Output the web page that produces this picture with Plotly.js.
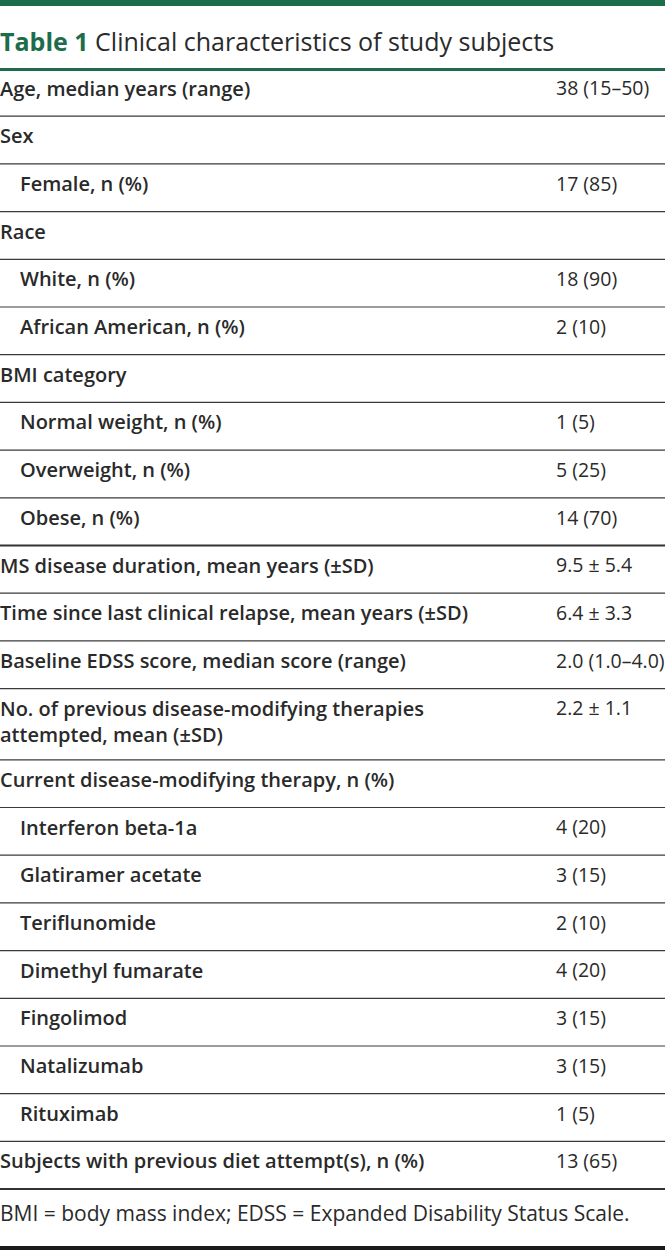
<!DOCTYPE html>
<html>
<head>
<meta charset="utf-8">
<script src="https://cdn.plot.ly/plotly-3.0.1.min.js"></script>
<style>
html,body{margin:0;padding:0;background:#fff;}
#chart{width:665px;height:1250px;}
</style>
</head>
<body>
<div id="chart"></div>
<script>
// ---- data ----
var rowLabels = [
  "Age, median years (range)",
  "Sex",
  "Female, n (%)",
  "Race",
  "White, n (%)",
  "African American, n (%)",
  "BMI category",
  "Normal weight, n (%)",
  "Overweight, n (%)",
  "Obese, n (%)",
  "MS disease duration, mean years (±SD)",
  "Time since last clinical relapse, mean years (±SD)",
  "Baseline EDSS score, median score (range)",
  "No. of previous disease-modifying therapies<br>attempted, mean (±SD)",
  "Current disease-modifying therapy, n (%)",
  "Interferon beta-1a",
  "Glatiramer acetate",
  "Teriflunomide",
  "Dimethyl fumarate",
  "Fingolimod",
  "Natalizumab",
  "Rituximab",
  "Subjects with previous diet attempt(s), n (%)"
];
var rowValues = [
  "38 (15–50)", "", "17 (85)", "", "18 (90)", "2 (10)", "", "1 (5)", "5 (25)", "14 (70)",
  "9.5 ± 5.4", "6.4 ± 3.3", "2.0 (1.0–4.0)", "2.2 ± 1.1", "",
  "4 (20)", "3 (15)", "2 (10)", "4 (20)", "3 (15)", "3 (15)", "1 (5)", "13 (65)"
];
var rowIndent = [0,0,1,0,1,1,0,1,1,1,0,0,0,0,0,1,1,1,1,1,1,1,0];
var thickAfter = [9, 22]; // rows followed by a heavier rule
var titleBold = "Table 1";
var titleRest = "Clinical characteristics of study subjects";
var footnote = "BMI = body mass index; EDSS = Expanded Disability Status Scale.";

// ---- layout geometry ----
var W = 665, H = 1250;
var tableTop = 68.5;
var rowH = 47.7, extraLineH = 23.5;
var labelSize = 20, valueSize = 19.5, footSize = 21;
var labelX0 = 0, labelX1 = 20, valueX = 556;
var green = "#1d6c4b", textCol = "#2a2a2a", ruleCol = "#3a3a3a";

var labelX = [], labelY = [], valY = [], shapes = [];
var y = tableTop;
for (var i = 0; i < rowLabels.length; i++) {
  var nLines = rowLabels[i].split("<br>").length;
  var h = rowH + (nLines - 1) * extraLineH;
  var firstLineY = y + 22;
  labelX.push(rowIndent[i] ? labelX1 : labelX0);
  labelY.push(firstLineY + (nLines - 1) * labelSize * 1.3 / 2);
  valY.push(firstLineY);
  y += h;
  var thick = thickAfter.indexOf(i) >= 0;
  shapes.push({type:"line", xref:"paper", yref:"y", x0:0, x1:1, y0:y, y1:y,
    line:{color: thick ? "#333" : ruleCol, width: thick ? 2 : 1.2}});
}
var tableBottom = y;
// top green bar, green rule under title, bottom black rule
shapes.push({type:"rect", xref:"paper", yref:"y", x0:0, x1:1, y0:0, y1:6, fillcolor:green, line:{width:0}});
shapes.push({type:"line", xref:"paper", yref:"y", x0:0, x1:1, y0:69.5, y1:69.5, line:{color:green, width:3}});
shapes.push({type:"rect", xref:"paper", yref:"y", x0:0, x1:1, y0:1246, y1:1250, fillcolor:"#1a1a1a", line:{width:0}});

var traces = [
  {type:"scatter", mode:"text", x:labelX, y:labelY, text:rowLabels,
   textposition:"middle right", hoverinfo:"skip", cliponaxis:false,
   textfont:{family:"Open Sans", size:labelSize, color:textCol, weight:600}},
  {type:"scatter", mode:"text", x:rowValues.map(function(){return valueX;}), y:valY, text:rowValues,
   textposition:"middle right", hoverinfo:"skip", cliponaxis:false,
   textfont:{family:"Open Sans", size:valueSize, color:textCol, weight:400}},
  {type:"scatter", mode:"text", x:[0], y:[tableBottom + 27], text:[footnote],
   textposition:"middle right", hoverinfo:"skip", cliponaxis:false,
   textfont:{family:"Open Sans", size:footSize, color:textCol, weight:400}}
];

var layout = {
  width:W, height:H,
  margin:{l:0, r:0, t:0, b:0},
  paper_bgcolor:"#fff", plot_bgcolor:"#fff",
  showlegend:false,
  title:{
    text:'<span style="color:' + green + '; font-weight:bold">' + titleBold + '</span> ' + titleRest,
    x:0, xref:"container", xanchor:"left",
    y:1 - 42/H, yref:"container", yanchor:"middle",
    font:{family:"Open Sans", size:25, color:textCol}
  },
  xaxis:{range:[0, W], visible:false, fixedrange:true},
  yaxis:{range:[H, 0], visible:false, fixedrange:true},
  shapes:shapes
};

Plotly.newPlot("chart", traces, layout, {staticPlot:true, displayModeBar:false});
</script>
</body>
</html>
